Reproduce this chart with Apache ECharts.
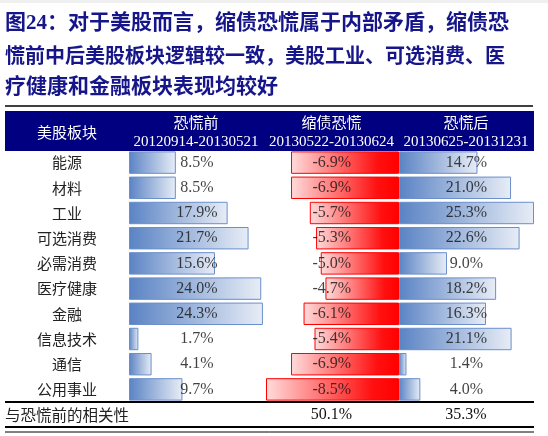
<!DOCTYPE html>
<html>
<head>
<meta charset="utf-8">
<script src="https://cdn.jsdelivr.net/npm/echarts@6/dist/echarts.min.js"></script>
<style>
    html, body {margin: 0; padding: 0; background: #fff;}
    #chart {width: 548px; height: 436px;}
</style>
</head>
<body>
<div id="chart"></div>
<script>
// 行业
const sectors = ['能源', '材料', '工业', '可选消费', '必需消费', '医疗健康', '金融', '信息技术', '通信', '公用事业'];
// 恐慌前 / 缩债恐慌 / 恐慌后 (%)
const beforePanic = [8.5, 8.5, 17.9, 21.7, 15.6, 24.0, 24.3, 1.7, 4.1, 9.7];
const duringPanic = [-6.9, -6.9, -5.7, -5.3, -5.0, -4.7, -6.1, -5.4, -6.9, -8.5];
const afterPanic = [14.7, 21.0, 25.3, 22.6, 9.0, 18.2, 16.3, 21.1, 1.4, 4.0];
// 表头
const headNames = ['恐慌前', '缩债恐慌', '恐慌后'];
const headDates = ['20120914-20130521', '20130522-20130624', '20130625-20131231'];
// 与恐慌前的相关性
const correlation = ['50.1%', '35.3%'];

const titleLines = [
    '图24：对于美股而言，缩债恐慌属于内部矛盾，缩债恐',
    '慌前中后美股板块逻辑较一致，美股工业、可选消费、医',
    '疗健康和金融板块表现均较好'
];

const FONT = '"Liberation Serif", "Noto Sans CJK SC", serif';
const colCenter = [196, 331.5, 466];

window.onload = function () {
    const chart = echarts.init(document.getElementById('chart'));

    const blue = {
        type: 'linear', x: 0, y: 0, x2: 1, y2: 0,
        colorStops: [{offset: 0, color: '#5a83c4'}, {offset: 1, color: '#e8edf6'}]
    };
    const red = {
        type: 'linear', x: 0, y: 0, x2: 1, y2: 0,
        colorStops: [{offset: 0, color: '#ffdcdc'}, {offset: 0.8, color: '#ff1010'}, {offset: 1, color: '#ff0000'}]
    };

    function catAxis(idx, show) {
        return {
            type: 'category', gridIndex: idx, data: sectors, inverse: true,
            axisLine: {show: false}, axisTick: {show: false},
            axisLabel: show ? {
                show: true, align: 'center', margin: 62,
                fontFamily: '"Noto Sans CJK SC"', fontSize: 15, color: '#222'
            } : {show: false}
        };
    }

    function valAxis(idx, min, max) {
        return {
            type: 'value', gridIndex: idx, min: min, max: max, show: false,
            splitLine: {show: false}
        };
    }

    // 在列中间显示数值
    function labelSeries(idx, values, pos) {
        return {
            type: 'scatter', xAxisIndex: idx, yAxisIndex: idx,
            symbolSize: 0, silent: true,
            data: values.map((v, i) => [pos, sectors[i], v]),
            label: {
                show: true, position: 'inside',
                formatter: p => p.value[2].toFixed(1) + '%',
                fontFamily: FONT, fontSize: 16, color: '#111'
            }
        };
    }

    const graphics = [
        {type: 'rect', shape: {x: 0, y: 0, width: 548, height: 3}, style: {fill: '#efefef'}},
        {type: 'line', shape: {x1: 5, y1: 106, x2: 533, y2: 106}, style: {stroke: '#000', lineWidth: 1.5}},
        {type: 'rect', shape: {x: 5, y: 111, width: 529, height: 40}, style: {fill: '#000080'}},
        {
            type: 'text', x: 67, y: 132,
            style: {text: '美股板块', fill: '#fff', font: '15px "Noto Sans CJK SC"', textAlign: 'center', textVerticalAlign: 'middle'}
        },
        {type: 'line', shape: {x1: 5, y1: 402, x2: 534, y2: 402}, style: {stroke: '#000', lineWidth: 2}},
        {type: 'line', shape: {x1: 5, y1: 427, x2: 534, y2: 427}, style: {stroke: '#000', lineWidth: 2}},
        {type: 'line', shape: {x1: 5, y1: 432, x2: 534, y2: 432}, style: {stroke: '#000', lineWidth: 1}},
        {
            type: 'text', x: 5, y: 415,
            style: {text: '与恐慌前的相关性', fill: '#222', font: '15.5px "Noto Sans CJK SC"', textVerticalAlign: 'middle'}
        }
    ];

    headNames.forEach((name, i) => {
        graphics.push({
            type: 'text', x: colCenter[i], y: 122,
            style: {text: name, fill: '#fff', font: '15px "Noto Sans CJK SC"', textAlign: 'center', textVerticalAlign: 'middle'}
        });
        graphics.push({
            type: 'text', x: colCenter[i], y: 142,
            style: {text: headDates[i], fill: '#fff', font: '15px "Liberation Serif"', textAlign: 'center', textVerticalAlign: 'middle'}
        });
    });

    correlation.forEach((c, i) => {
        graphics.push({
            type: 'text', x: colCenter[i + 1], y: 415,
            style: {text: c, fill: '#111', font: '16px "Liberation Serif"', textAlign: 'center', textVerticalAlign: 'middle'}
        });
    });

    const titleY = [24, 58, 88];
    const titleSize = [21, 20, 21];
    titleLines.forEach((t, i) => {
        graphics.push({
            type: 'text', x: 5, y: titleY[i],
            style: {
                text: t, fill: '#16168a', textVerticalAlign: 'middle',
                font: 'bold ' + titleSize[i] + 'px "Liberation Serif", "Noto Sans CJK SC"'
            }
        });
    });

    let option = {
        animation: false,
        grid: [
            {left: 129, top: 150, width: 135, height: 252},
            {left: 266, top: 150, width: 133, height: 252},
            {left: 399, top: 150, width: 135, height: 252}
        ],
        xAxis: [valAxis(0, 0, 24.5), valAxis(1, -8.5, 0), valAxis(2, 0, 25.3)],
        yAxis: [catAxis(0, true), catAxis(1, false), catAxis(2, false)],
        series: [
            {
                type: 'bar', xAxisIndex: 0, yAxisIndex: 0, data: beforePanic, barWidth: '89%',
                itemStyle: {color: blue, borderColor: '#6a8fcc', borderWidth: 1}
            },
            {
                type: 'bar', xAxisIndex: 1, yAxisIndex: 1, data: duringPanic, barWidth: '89%',
                itemStyle: {color: red, borderColor: '#ff0000', borderWidth: 1}
            },
            {
                type: 'bar', xAxisIndex: 2, yAxisIndex: 2, data: afterPanic, barWidth: '89%',
                itemStyle: {color: blue, borderColor: '#6a8fcc', borderWidth: 1}
            },
            labelSeries(0, beforePanic, 12.34),
            labelSeries(1, duringPanic, -4.3),
            labelSeries(2, afterPanic, 12.64)
        ],
        graphic: graphics
    };

    option && chart.setOption(option);
};
</script>
</body>
</html>
